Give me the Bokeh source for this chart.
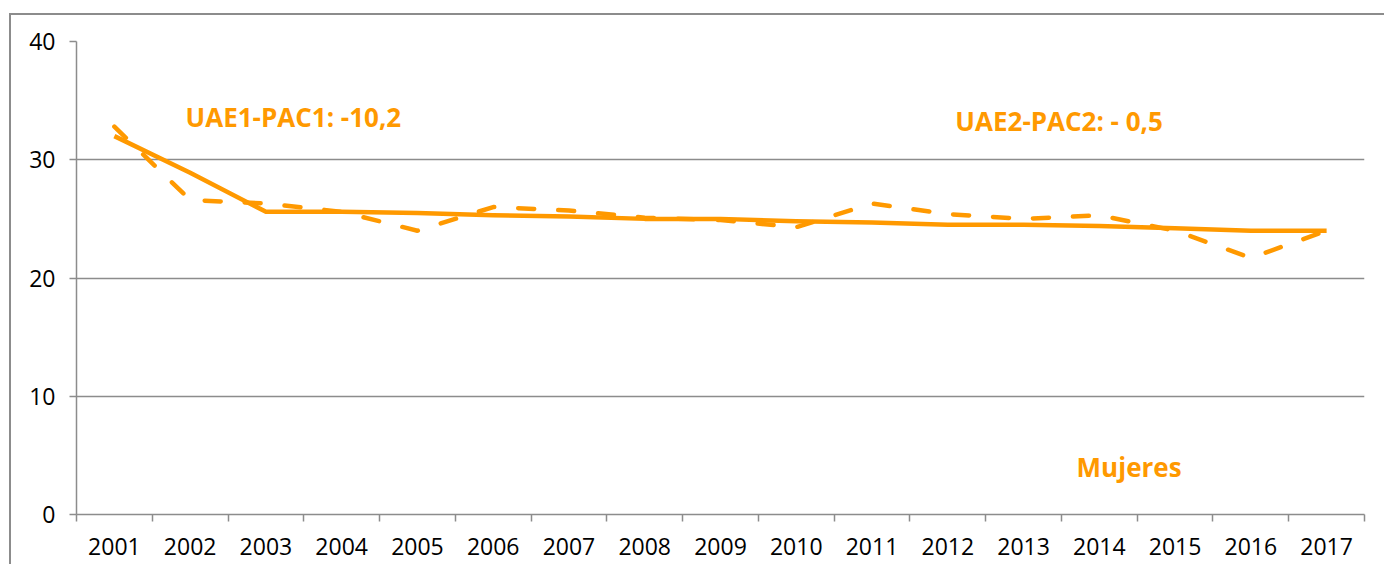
from bokeh.plotting import figure
from bokeh.models import FixedTicker, Label, Range1d, InlineStyleSheet
from bokeh.embed import file_html
from bokeh.resources import INLINE

years = ["2001", "2002", "2003", "2004", "2005", "2006", "2007", "2008", "2009",
         "2010", "2011", "2012", "2013", "2014", "2015", "2016", "2017"]
tendencia = [32.0, 28.9, 25.6, 25.6, 25.5, 25.3, 25.2, 25.0, 25.0,
             24.8, 24.7, 24.5, 24.5, 24.4, 24.2, 24.0, 24.0]
observado = [32.8, 26.6, 26.3, 25.6, 24.0, 26.0, 25.7, 25.1, 24.9,
             24.3, 26.3, 25.4, 25.0, 25.3, 24.0, 21.7, 24.0]
y_ticks = [0, 10, 20, 30, 40]
ann1 = "UAE1-PAC1: -10,2"
ann2 = "UAE2-PAC2: - 0,5"
ann3 = "Mujeres"

ORANGE = "#FF9900"
GRAY = "#8C8C8C"
FONT = "Open Sans"

xs = [i + 0.5 for i in range(len(years))]

p = figure(width=1384, height=564, output_backend="svg", toolbar_location=None,
           x_range=Range1d(0, len(years)), y_range=Range1d(0, 40),
           min_border_left=76, min_border_right=20, min_border_top=41,
           min_border_bottom=50)
p.outline_line_color = None
p.background_fill_color = "white"
p.border_fill_color = "white"

# lines
p.line(xs, observado, line_color=ORANGE, line_width=4.5, line_dash="16 24",
       line_cap="round", line_join="round")
p.line(xs, tendencia, line_color=ORANGE, line_width=4.5, line_join="round")

# x axis
p.xaxis.ticker = FixedTicker(ticks=xs, minor_ticks=list(range(len(years) + 1)))
p.xaxis.major_label_overrides = {x: y for x, y in zip(xs, years)}
p.xaxis.major_tick_line_color = None
p.xaxis.major_tick_out = 0
p.xaxis.major_tick_in = 0
p.xaxis.minor_tick_line_color = GRAY
p.xaxis.minor_tick_line_width = 1.5
p.xaxis.minor_tick_out = 7
p.xaxis.minor_tick_in = 0
p.xaxis.axis_line_color = GRAY
p.xaxis.axis_line_width = 1.5
p.xaxis.major_label_standoff = 16
p.xaxis.major_label_text_font = FONT
p.xaxis.major_label_text_font_size = "23px"
p.xaxis.major_label_text_color = "black"
p.xgrid.grid_line_color = None

# y axis
p.yaxis.ticker = FixedTicker(ticks=y_ticks)
p.yaxis.minor_tick_line_color = None
p.yaxis.major_tick_line_color = GRAY
p.yaxis.major_tick_line_width = 1.5
p.yaxis.major_tick_out = 7
p.yaxis.major_tick_in = 0
p.yaxis.axis_line_color = GRAY
p.yaxis.axis_line_width = 1.5
p.yaxis.major_label_standoff = 14
p.yaxis.major_label_text_font = FONT
p.yaxis.major_label_text_font_size = "23px"
p.yaxis.major_label_text_color = "black"
p.ygrid.ticker = FixedTicker(ticks=y_ticks)
p.ygrid.grid_line_color = GRAY
p.ygrid.grid_line_width = 1.5

# annotations
for txt, x, y in [(ann1, 1.44, 33.6), (ann2, 11.6, 33.3), (ann3, 13.2, 4.0)]:
    p.add_layout(Label(x=x, y=y, text=txt, text_color=ORANGE, text_font=FONT,
                       text_font_style="bold", text_font_size="26px",
                       text_baseline="middle", text_align="left"))

# outer chart border (cropped by the picture edge)
p.stylesheets = [InlineStyleSheet(css="""
:host { position: relative; }
:host::after {
  content: "";
  position: absolute;
  left: 9px; top: 13px; right: -20px; bottom: -20px;
  border-left: 2px solid #8C8C8C;
  border-top: 2px solid #8C8C8C;
  pointer-events: none;
  z-index: 10;
}
""")]

open("out.html", "w").write(file_html(p, INLINE))
